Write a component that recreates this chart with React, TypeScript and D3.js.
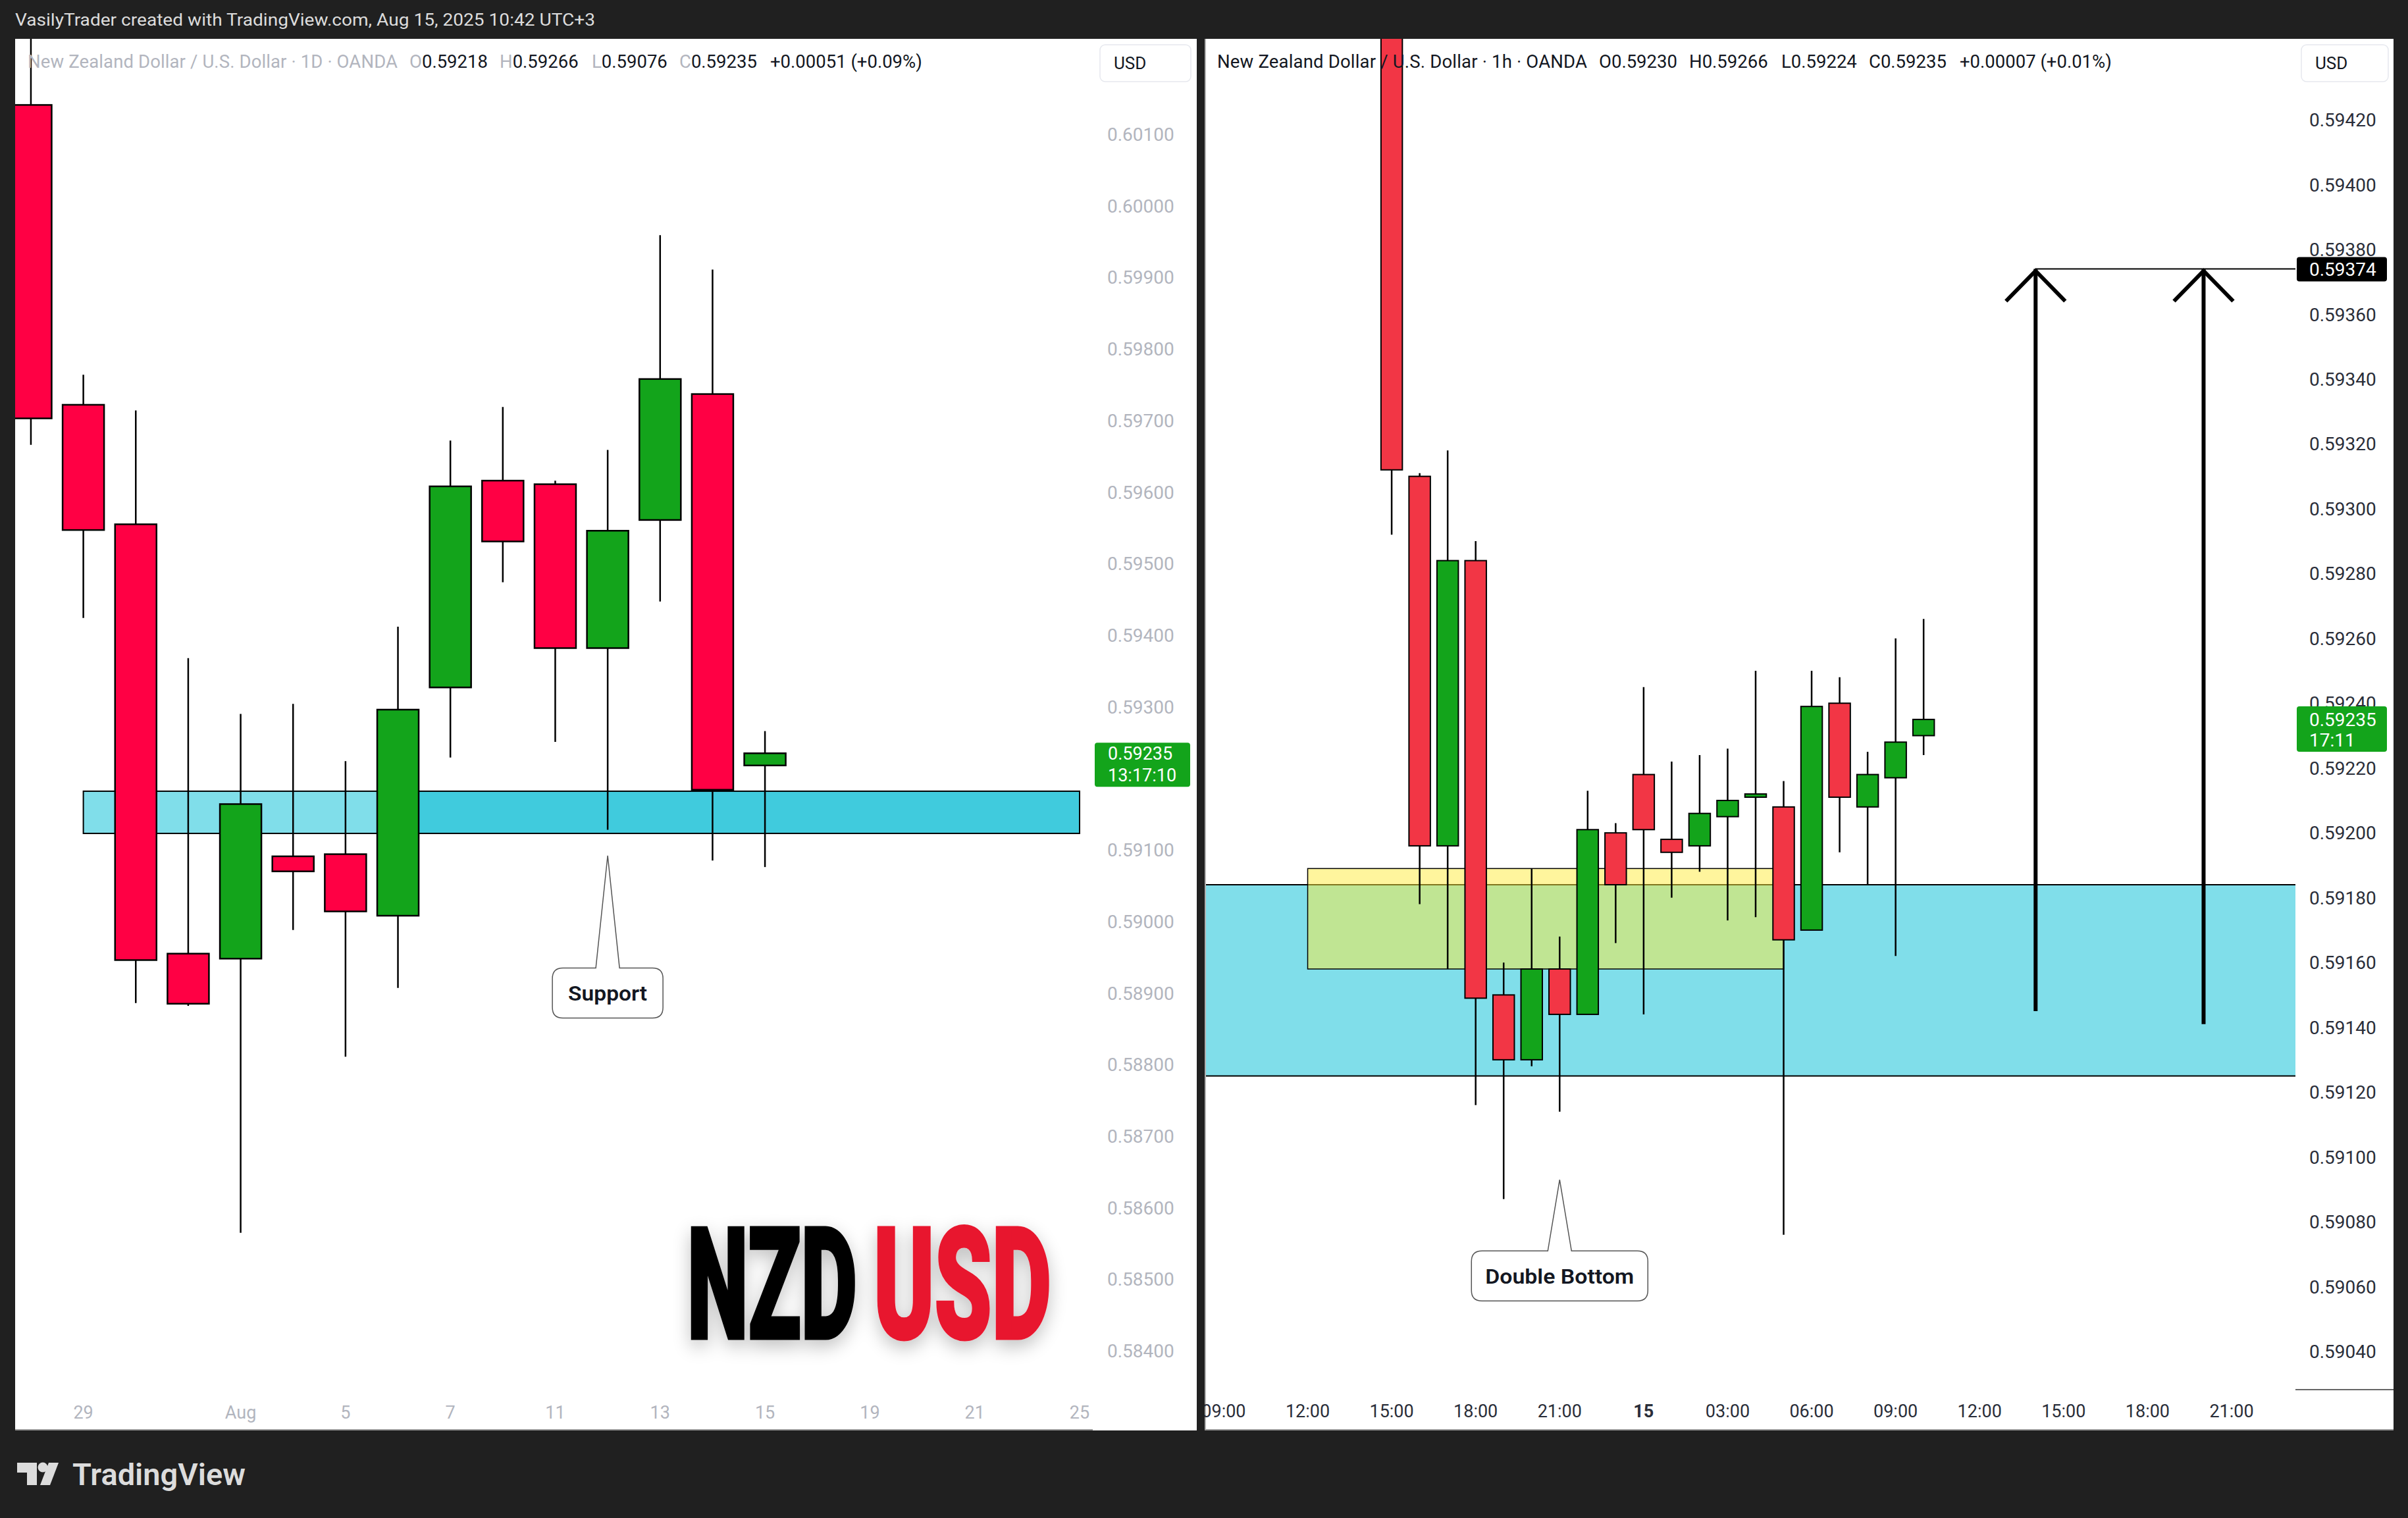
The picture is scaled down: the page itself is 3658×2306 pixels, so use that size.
import React from 'react';
import * as d3 from 'd3';

// ---------------- DATA ----------------
// Left chart: NZD/USD daily (OANDA)
const dailyDays = ['Jul 28', 'Jul 29', 'Jul 30', 'Jul 31', 'Aug 1', 'Aug 4', 'Aug 5', 'Aug 6', 'Aug 7', 'Aug 8', 'Aug 11', 'Aug 12', 'Aug 13', 'Aug 14', 'Aug 15'];
const dailyOpen = [0.60141, 0.59722, 0.59555, 0.58955, 0.58948, 0.59091, 0.59094, 0.59008, 0.59327, 0.59616, 0.59611, 0.59382, 0.59561, 0.59737, 0.59218];
const dailyHigh = [0.60300, 0.59764, 0.59714, 0.59368, 0.59290, 0.59304, 0.59224, 0.59412, 0.59672, 0.59719, 0.59616, 0.59659, 0.59959, 0.59911, 0.59266];
const dailyLow = [0.59666, 0.59424, 0.58886, 0.58882, 0.58565, 0.58988, 0.58811, 0.58907, 0.59229, 0.59474, 0.59251, 0.59128, 0.59447, 0.59085, 0.59076];
const dailyClose = [0.59703, 0.59547, 0.58946, 0.58885, 0.59164, 0.59070, 0.59014, 0.59296, 0.59608, 0.59531, 0.59382, 0.59546, 0.59758, 0.59184, 0.59235];
// trading-day axis (weekends skipped), incl. future days
const dailyAxisDays = ['Jul 28', 'Jul 29', 'Jul 30', 'Jul 31', 'Aug 1', 'Aug 4', 'Aug 5', 'Aug 6', 'Aug 7', 'Aug 8', 'Aug 11', 'Aug 12', 'Aug 13', 'Aug 14', 'Aug 15', 'Aug 18', 'Aug 19', 'Aug 20', 'Aug 21', 'Aug 22', 'Aug 25'];
const dailyTickDays = ['Jul 29', 'Aug 1', 'Aug 5', 'Aug 7', 'Aug 11', 'Aug 13', 'Aug 15', 'Aug 19', 'Aug 21', 'Aug 25'];
const dailyTickLabels = ['29', 'Aug', '5', '7', '11', '13', '15', '19', '21', '25'];
const dailyPriceTicks = [0.601, 0.600, 0.599, 0.598, 0.597, 0.596, 0.595, 0.594, 0.593, 0.592, 0.591, 0.590, 0.589, 0.588, 0.587, 0.586, 0.585, 0.584];
const supportZone = [0.59123, 0.59182];
const supportFrom = 'Jul 29';
const supportDarkFrom = 'Aug 6';
const supportTo = 'Aug 25';
const supportNoteDay = 'Aug 12';
const supportNoteTipPrice = 0.59092;
const supportNoteBoxPrice = 0.58935;

// Right chart: NZD/USD 1h (OANDA)
const hourlyTimes = ['2025-08-14T15:00', '2025-08-14T16:00', '2025-08-14T17:00', '2025-08-14T18:00', '2025-08-14T19:00', '2025-08-14T20:00', '2025-08-14T21:00', '2025-08-14T22:00', '2025-08-14T23:00', '2025-08-15T00:00', '2025-08-15T01:00', '2025-08-15T02:00', '2025-08-15T03:00', '2025-08-15T04:00', '2025-08-15T05:00', '2025-08-15T06:00', '2025-08-15T07:00', '2025-08-15T08:00', '2025-08-15T09:00', '2025-08-15T10:00'];
const hourlyOpen = [0.59660, 0.59310, 0.59196, 0.59284, 0.59150, 0.59130, 0.59158, 0.59144, 0.59200, 0.59218, 0.59198, 0.59196, 0.59205, 0.59211, 0.59208, 0.59170, 0.59240, 0.59208, 0.59217, 0.59230];
const hourlyHigh = [0.59672, 0.59311, 0.59318, 0.59290, 0.59160, 0.59189, 0.59168, 0.59213, 0.59203, 0.59245, 0.59222, 0.59224, 0.59226, 0.59250, 0.59216, 0.59250, 0.59248, 0.59225, 0.59260, 0.59266];
const hourlyLow = [0.59292, 0.59178, 0.59158, 0.59116, 0.59087, 0.59128, 0.59114, 0.59144, 0.59166, 0.59144, 0.59180, 0.59188, 0.59173, 0.59174, 0.59076, 0.59170, 0.59194, 0.59184, 0.59162, 0.59224];
const hourlyClose = [0.59312, 0.59196, 0.59284, 0.59149, 0.59130, 0.59158, 0.59144, 0.59201, 0.59184, 0.59201, 0.59194, 0.59206, 0.59210, 0.59212, 0.59167, 0.59239, 0.59211, 0.59218, 0.59228, 0.59235];
const hourlyTickTimes = ['2025-08-14T09:00', '2025-08-14T12:00', '2025-08-14T15:00', '2025-08-14T18:00', '2025-08-14T21:00', '2025-08-15T00:00', '2025-08-15T03:00', '2025-08-15T06:00', '2025-08-15T09:00', '2025-08-15T12:00', '2025-08-15T15:00', '2025-08-15T18:00', '2025-08-15T21:00'];
const hourlyTickLabels = ['09:00', '12:00', '15:00', '18:00', '21:00', '15', '03:00', '06:00', '09:00', '12:00', '15:00', '18:00', '21:00'];
const hourlyPriceTicks = [0.5942, 0.5940, 0.5938, 0.5936, 0.5934, 0.5932, 0.5930, 0.5928, 0.5926, 0.5924, 0.5922, 0.5920, 0.5918, 0.5916, 0.5914, 0.5912, 0.5910, 0.5908, 0.5906, 0.5904];
const demandZone = [0.59125, 0.59184];
const doubleBottomZone = [0.59158, 0.59189];
const doubleBottomFrom = '2025-08-14T12:00';
const doubleBottomTo = '2025-08-15T05:00';
const targetPrice = 0.59374;
const arrowTimes = ['2025-08-15T14:00', '2025-08-15T20:00'];
const arrowBases = [0.59145, 0.59141];
const doubleBottomNoteTime = '2025-08-14T21:00';
const doubleBottomNoteTipPrice = 0.59093;
const doubleBottomNoteBoxPrice = 0.59071;

const lastPrice = 0.59235;

// ---------------- LAYOUT ----------------
const W = 3658;
const H = 2306;
const BG = '#202020';
const GREEN = '#13A41B';
const LRED = '#FF0044';
const RRED = '#F23645';
const FONT = 'Roboto, "Noto Sans", "DejaVu Sans", sans-serif';

const parseT = d3.timeParse('%Y-%m-%dT%H:%M');

// panels
const LP = { x0: 23, x1: 1818, y0: 59, y1: 2173, paneX1: 1660, paneY1: 2112 };
const RP = { x0: 1830, x1: 3636, y0: 59, y1: 2173, paneX1: 3487, paneY1: 2112 };

const LX = d3.scalePoint<string>().domain(dailyAxisDays).range([46.95, 1640]);
const LY = d3.scaleLinear().domain([0.584, 0.601]).range([2052, 204]);
const RX = d3.scaleTime().domain([parseT('2025-08-14T12:00')!, parseT('2025-08-15T21:00')!]).range([1986.5, 3390]);
const RY = d3.scaleLinear().domain([0.5904, 0.5942]).range([2053, 182]);

type Bar = { t: any; o: number; h: number; l: number; c: number };

const dailyBars: Bar[] = dailyDays.map((t, i) => ({ t, o: dailyOpen[i], h: dailyHigh[i], l: dailyLow[i], c: dailyClose[i] }));
const hourlyBars: Bar[] = hourlyTimes.map((t, i) => ({ t: parseT(t), o: hourlyOpen[i], h: hourlyHigh[i], l: hourlyLow[i], c: hourlyClose[i] }));

function Candles({ bars, x, y, bodyW, down, wickW, borderW }: any) {
  return (
    <g>
      {bars.map((d: Bar, i: number) => {
        const cx = x(d.t);
        const top = y(Math.max(d.o, d.c));
        const bot = y(Math.min(d.o, d.c));
        const up = d.c >= d.o;
        return (
          <g key={i}>
            <line x1={cx} x2={cx} y1={y(d.h)} y2={y(d.l)} stroke="#000" strokeWidth={wickW} />
            <rect x={cx - bodyW / 2} y={top} width={bodyW} height={Math.max(bot - top, 3)} fill={up ? GREEN : down} stroke="#000" strokeWidth={borderW} />
          </g>
        );
      })}
    </g>
  );
}

function calloutPath(x0: number, y0: number, x1: number, y1: number, r: number, bx0: number, bx1: number, tx: number, ty: number) {
  return `M${x0 + r},${y0} L${bx0},${y0} L${tx},${ty} L${bx1},${y0} L${x1 - r},${y0} Q${x1},${y0} ${x1},${y0 + r} L${x1},${y1 - r} Q${x1},${y1} ${x1 - r},${y1} L${x0 + r},${y1} Q${x0},${y1} ${x0},${y1 - r} L${x0},${y0 + r} Q${x0},${y0} ${x0 + r},${y0} Z`;
}

function Legend({ x, y, title, letters, values, change, titleColor, letterColor, valueColor }: any) {
  const offs = [580, 717, 857, 990];
  return (
    <g fontFamily={FONT} fontSize={27.5}>
      <text x={x} y={y} fill={titleColor} textLength={562} lengthAdjust="spacing">{title}</text>
      {letters.map((L: string, i: number) => (
        <text key={i} x={x + offs[i]} y={y}>
          <tspan fill={letterColor}>{L}</tspan>
          <tspan fill={valueColor}>{values[i]}</tspan>
        </text>
      ))}
      <text x={x + 1128} y={y} fill={valueColor}>{change}</text>
    </g>
  );
}

export default function App() {
  const lBodyW = 63;
  const rBodyW = 32.5;

  const fmt5 = d3.format('.5f');

  // support callout geometry from data anchor
  const sx = LX(supportNoteDay)!;
  const sTipY = LY(supportNoteTipPrice);
  const sBoxY0 = LY(supportNoteBoxPrice);
  const sBoxY1 = sBoxY0 + 76;

  const dbx = RX(parseT(doubleBottomNoteTime)!);
  const dbTipY = RY(doubleBottomNoteTipPrice);
  const dbBoxY0 = RY(doubleBottomNoteBoxPrice);
  const dbBoxY1 = dbBoxY0 + 76;

  const tY = RY(targetPrice);

  // last-price label boxes (axis ticks fully hidden beneath them are not drawn, as in TradingView)
  const lLabelY0 = LY(lastPrice) - 16;
  const lLabelY1 = lLabelY0 + 67;
  const leftTicksShown = dailyPriceTicks.filter((p) => LY(p) < lLabelY0 - 2 || LY(p) > lLabelY1 + 2);

  // condensed logo: horizontal squeeze
  const logoSX = 0.58;

  return (
    <svg width={W} height={H} style={{ position: 'absolute', left: 0, top: 0, display: 'block' }} xmlns="http://www.w3.org/2000/svg">
      <defs>
        <clipPath id="lclip"><rect x={LP.x0} y={LP.y0} width={LP.paneX1 - LP.x0} height={LP.paneY1 - LP.y0} /></clipPath>
        <clipPath id="rclip"><rect x={RP.x0} y={RP.y0} width={RP.paneX1 - RP.x0} height={RP.paneY1 - RP.y0} /></clipPath>
        <clipPath id="rtclip"><rect x={RP.x0} y={RP.paneY1} width={RP.paneX1 - RP.x0} height={RP.y1 - RP.paneY1} /></clipPath>
        <filter id="shadow" x="-20%" y="-30%" width="140%" height="160%">
          <feGaussianBlur in="SourceAlpha" stdDeviation="14" />
          <feOffset dx="0" dy="10" result="b" />
          <feComponentTransfer><feFuncA type="linear" slope="0.25" /></feComponentTransfer>
          <feMerge><feMergeNode /><feMergeNode in="SourceGraphic" /></feMerge>
        </filter>
      </defs>

      <rect x={0} y={0} width={W} height={H} fill={BG} />
      <text x={23} y={39} fill="#dcdcdc" fontFamily={FONT} fontSize={25} textLength={881} lengthAdjust="spacingAndGlyphs">
        VasilyTrader created with TradingView.com, Aug 15, 2025 10:42 UTC+3
      </text>

      {/* ============ LEFT PANEL ============ */}
      <rect x={LP.x0} y={LP.y0} width={LP.x1 - LP.x0} height={LP.y1 - LP.y0} fill="#fff" />
      <g clipPath="url(#lclip)">
        {/* support zone */}
        <rect x={LX(supportFrom)} y={LY(supportZone[1])} width={LX(supportTo)! - LX(supportFrom)!} height={LY(supportZone[0]) - LY(supportZone[1])} fill="#80DEEA" />
        <rect x={LX(supportDarkFrom)} y={LY(supportZone[1])} width={LX(supportTo)! - LX(supportDarkFrom)!} height={LY(supportZone[0]) - LY(supportZone[1])} fill="#40CBDD" />
        <rect x={LX(supportFrom)} y={LY(supportZone[1])} width={LX(supportTo)! - LX(supportFrom)!} height={LY(supportZone[0]) - LY(supportZone[1])} fill="none" stroke="#000" strokeWidth={2} />
        <Candles bars={dailyBars} x={LX} y={LY} bodyW={lBodyW} down={LRED} wickW={2.5} borderW={2.5} />
        {/* Support callout */}
        <path d={calloutPath(sx - 84, sBoxY0, sx + 84, sBoxY1, 16, sx - 18, sx + 18, sx, sTipY)} fill="#fff" stroke="#555" strokeWidth={1.5} />
        <text x={sx} y={(sBoxY0 + sBoxY1) / 2} dy="0.36em" textAnchor="middle" fontFamily={FONT} fontWeight={600} fontSize={31} fill="#131722" textLength={120} lengthAdjust="spacingAndGlyphs">Support</text>
        {/* NZDUSD logo */}
        <g filter="url(#shadow)">
          <g transform={`translate(1044,2033) scale(${logoSX},1)`} fontFamily={FONT} fontWeight={900} fontSize={236} strokeWidth={5} strokeLinejoin="miter">
            <text x={0} y={0} fill="#000" stroke="#000" textLength={258 / logoSX} lengthAdjust="spacingAndGlyphs">NZD</text>
            <text x={283 / logoSX} y={0} fill="#E8192F" stroke="#E8192F" textLength={270 / logoSX} lengthAdjust="spacingAndGlyphs">USD</text>
          </g>
        </g>
      </g>
      <Legend x={42} y={103} title="New Zealand Dollar / U.S. Dollar · 1D · OANDA" letters={['O', 'H', 'L', 'C']}
        values={[fmt5(dailyOpen[14]), fmt5(dailyHigh[14]), fmt5(dailyLow[14]), fmt5(dailyClose[14])]}
        change="+0.00051 (+0.09%)" titleColor="#b2b5be" letterColor="#b2b5be" valueColor="#131722" />
      {/* left price axis */}
      <g fontFamily={FONT} fontSize={28} fill="#b2b5be">
        {leftTicksShown.map((p, i) => (
          <text key={i} x={1682} y={LY(p)} dy="0.36em">{fmt5(p)}</text>
        ))}
      </g>
      <rect x={1671} y={68} width={138} height={56} rx={8} fill="#fff" stroke="#e6e8ee" strokeWidth={1.5} />
      <text x={1692} y={96} dy="0.36em" fontFamily={FONT} fontSize={26} fill="#131722">USD</text>
      <rect x={1663} y={lLabelY0} width={145} height={67} rx={4} fill={GREEN} />
      <text x={1683} y={LY(lastPrice)} dy="0.36em" fontFamily={FONT} fontSize={27} fill="#fff">{fmt5(lastPrice)}</text>
      <text x={1683} y={LY(lastPrice) + 33} dy="0.36em" fontFamily={FONT} fontSize={27} fill="#fff">13:17:10</text>
      {/* left time axis */}
      <g fontFamily={FONT} fontSize={27} fill="#b2b5be" textAnchor="middle">
        {dailyTickDays.map((d, i) => (
          <text key={i} x={LX(d)} y={2145} dy="0.36em">{dailyTickLabels[i]}</text>
        ))}
      </g>
      <line x1={LP.x0} x2={LP.paneX1} y1={LP.y1 - 1} y2={LP.y1 - 1} stroke="#9a9a9a" strokeWidth={2} />

      {/* ============ RIGHT PANEL ============ */}
      <rect x={RP.x0} y={RP.y0} width={RP.x1 - RP.x0} height={RP.y1 - RP.y0} fill="#fff" />
      <g clipPath="url(#rclip)">
        <rect x={RP.x0} y={RY(demandZone[1])} width={RP.paneX1 - RP.x0} height={RY(demandZone[0]) - RY(demandZone[1])} fill="#80DEEA" />
        <line x1={RP.x0} x2={RP.paneX1} y1={RY(demandZone[1])} y2={RY(demandZone[1])} stroke="#000" strokeWidth={2} />
        <line x1={RP.x0} x2={RP.paneX1} y1={RY(demandZone[0])} y2={RY(demandZone[0])} stroke="#000" strokeWidth={2} />
        <rect x={RX(parseT(doubleBottomFrom)!)} y={RY(doubleBottomZone[1])} width={RX(parseT(doubleBottomTo)!) - RX(parseT(doubleBottomFrom)!)} height={RY(doubleBottomZone[0]) - RY(doubleBottomZone[1])} fill="#FFEB3B" fillOpacity={0.5} stroke="#000" strokeWidth={1.5} />
        <Candles bars={hourlyBars} x={RX} y={RY} bodyW={rBodyW} down={RRED} wickW={2.5} borderW={2} />
        {/* target line and arrows */}
        <line x1={RX(parseT(arrowTimes[0])!)} x2={RP.paneX1} y1={tY} y2={tY} stroke="#000" strokeWidth={2} />
        {arrowTimes.map((t, i) => {
          const ax = RX(parseT(t)!);
          return (
            <g key={i} stroke="#000" strokeWidth={6} fill="none" strokeLinecap="butt">
              <line x1={ax} x2={ax} y1={tY} y2={RY(arrowBases[i])} />
              <polyline points={`${ax - 45},${tY + 49} ${ax},${tY + 3} ${ax + 45},${tY + 49}`} />
            </g>
          );
        })}
        {/* Double Bottom callout */}
        <path d={calloutPath(dbx - 134, dbBoxY0, dbx + 134, dbBoxY1, 16, dbx - 18, dbx + 18, dbx, dbTipY)} fill="#fff" stroke="#555" strokeWidth={1.5} />
        <text x={dbx} y={(dbBoxY0 + dbBoxY1) / 2} dy="0.36em" textAnchor="middle" fontFamily={FONT} fontWeight={600} fontSize={31} fill="#131722" textLength={226} lengthAdjust="spacingAndGlyphs">Double Bottom</text>
      </g>
      <line x1={RP.x0 + 1} x2={RP.x0 + 1} y1={RP.y0} y2={RP.y1} stroke="#b0b0b0" strokeWidth={2} />
      <Legend x={1849} y={103} title="New Zealand Dollar / U.S. Dollar · 1h · OANDA" letters={['O', 'H', 'L', 'C']}
        values={[fmt5(hourlyOpen[19]), fmt5(hourlyHigh[19]), fmt5(hourlyLow[19]), fmt5(hourlyClose[19])]}
        change="+0.00007 (+0.01%)" titleColor="#131722" letterColor="#131722" valueColor="#131722" />
      {/* right price axis */}
      <g fontFamily={FONT} fontSize={28} fill="#2a2e39">
        {hourlyPriceTicks.map((p, i) => (
          <text key={i} x={3508} y={RY(p)} dy="0.36em">{fmt5(p)}</text>
        ))}
      </g>
      <rect x={3496} y={68} width={132} height={56} rx={8} fill="#fff" stroke="#e6e8ee" strokeWidth={1.5} />
      <text x={3517} y={96} dy="0.36em" fontFamily={FONT} fontSize={26} fill="#131722">USD</text>
      <rect x={3489} y={tY - 18} width={137} height={37} rx={4} fill="#000" />
      <text x={3508} y={tY} dy="0.36em" fontFamily={FONT} fontSize={28} fill="#fff">{fmt5(targetPrice)}</text>
      <rect x={3489} y={RY(lastPrice) - 20} width={137} height={69} rx={4} fill={GREEN} />
      <text x={3508} y={RY(lastPrice)} dy="0.36em" fontFamily={FONT} fontSize={28} fill="#fff">{fmt5(lastPrice)}</text>
      <text x={3508} y={RY(lastPrice) + 31} dy="0.36em" fontFamily={FONT} fontSize={28} fill="#fff">17:11</text>
      {/* right time axis */}
      <g clipPath="url(#rtclip)" fontFamily={FONT} fontSize={27} fill="#2a2e39" textAnchor="middle">
        {hourlyTickTimes.map((t, i) => (
          <text key={i} x={RX(parseT(t)!)} y={2143} dy="0.36em" fontWeight={hourlyTickLabels[i] === '15' ? 700 : 400}>{hourlyTickLabels[i]}</text>
        ))}
      </g>
      <line x1={RP.paneX1} x2={RP.x1} y1={2111} y2={2111} stroke="#333" strokeWidth={1.5} />
      <line x1={RP.x0} x2={RP.x1} y1={RP.y1 - 1} y2={RP.y1 - 1} stroke="#9a9a9a" strokeWidth={2} />

      {/* ============ FOOTER LOGO ============ */}
      <g fill="#dcdcdc">
        <path d="M26,2222 H56 V2256 H41 V2237 H26 Z" />
        <circle cx={65} cy={2229} r={7.5} />
        <path d="M74,2222 H89 L76,2256 H61 Z" />
        <text x={110} y={2256} fontFamily={FONT} fontWeight={600} fontSize={47} textLength={263} lengthAdjust="spacingAndGlyphs">TradingView</text>
      </g>
    </svg>
  );
}
